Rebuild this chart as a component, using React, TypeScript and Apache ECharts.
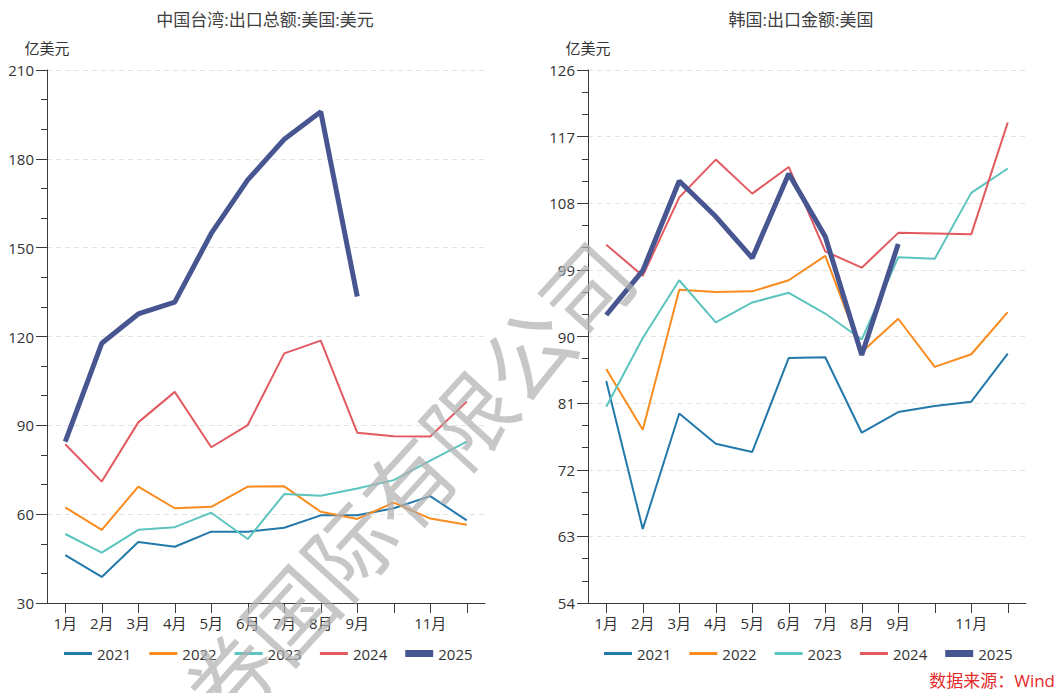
import React, { useEffect, useRef } from "react";
import * as echarts from "echarts";

const months = ["1月", "2月", "3月", "4月", "5月", "6月", "7月", "8月", "9月", "10月", "11月", "12月"];
const years = ["2021", "2022", "2023", "2024", "2025"];
const colors = ["#2379AA", "#FA8B1E", "#5CC4BE", "#E25A60", "#475691"];

const twTitle = "中国台湾:出口总额:美国:美元";
const krTitle = "韩国:出口金额:美国";
const unitName = "亿美元";
const sourceText = "数据来源：Wind";
const watermarkText = "证券国际有限公司";

const tw2021 = [46.2, 38.8, 50.6, 49.0, 54.1, 54.1, 55.4, 59.6, 59.6, 62.0, 66.1, 57.9];
const tw2022 = [62.3, 54.7, 69.3, 62.0, 62.5, 69.3, 69.4, 60.8, 58.4, 63.9, 58.5, 56.4];
const tw2023 = [53.3, 47.0, 54.7, 55.6, 60.5, 51.6, 66.8, 66.2, 68.7, 71.5, 78.1, 84.5];
const tw2024 = [83.6, 71.0, 91.0, 101.3, 82.6, 90.1, 114.3, 118.6, 87.5, 86.3, 86.2, 98.0];
const tw2025 = [84.5, 117.7, 127.6, 131.6, 154.8, 172.9, 186.6, 195.9, 133.5];

const kr2021 = [84.0, 64.0, 79.6, 75.5, 74.4, 87.1, 87.2, 77.0, 79.8, 80.6, 81.2, 87.7];
const kr2022 = [85.6, 77.4, 96.3, 96.0, 96.1, 97.6, 100.9, 87.9, 92.4, 85.9, 87.6, 93.3];
const kr2023 = [80.5, 89.8, 97.6, 91.9, 94.6, 95.9, 93.1, 89.6, 100.7, 100.5, 109.4, 112.7];
const kr2024 = [102.4, 98.2, 108.8, 113.9, 109.3, 112.9, 101.5, 99.3, 104.0, 103.9, 103.8, 118.9];
const kr2025 = [92.9, 98.9, 111.0, 106.2, 100.6, 112.0, 103.5, 87.5, 102.5];

const twY = { min: 30, max: 210, interval: 30 };
const krY = { min: 54, max: 126, interval: 9 };

const twSeries = [tw2021, tw2022, tw2023, tw2024, tw2025];
const krSeries = [kr2021, kr2022, kr2023, kr2024, kr2025];

const FONT = "'Open Sans', 'Noto Sans CJK SC', sans-serif";
const AXIS_COLOR = "#3a3a3a";

function makeXAxis(gridIndex: number) {
  return {
    type: "category",
    gridIndex,
    data: months,
    boundaryGap: true,
    axisLine: { show: true, lineStyle: { color: AXIS_COLOR, width: 1 } },
    axisTick: { show: true, alignWithLabel: true, interval: 0, length: 10, lineStyle: { color: AXIS_COLOR } },
    axisLabel: {
      interval: (index: number) => index < 9 || index === 10,
      margin: 12,
      fontSize: 15,
      color: "#333",
      fontFamily: FONT,
    },
    splitLine: { show: false },
  };
}

function makeYAxis(gridIndex: number, cfg: { min: number; max: number; interval: number }) {
  return {
    type: "value",
    gridIndex,
    min: cfg.min,
    max: cfg.max,
    interval: cfg.interval,
    name: unitName,
    nameLocation: "end",
    nameGap: 15,
    nameTextStyle: { fontSize: 15, color: "#333", fontFamily: FONT, align: "center" },
    axisLine: { show: true, lineStyle: { color: AXIS_COLOR, width: 1 } },
    axisTick: { show: true, length: 11, lineStyle: { color: AXIS_COLOR } },
    minorTick: { show: true, splitNumber: 3, length: 6, lineStyle: { color: AXIS_COLOR } },
    axisLabel: { margin: 13, fontSize: 15, color: "#333", fontFamily: FONT },
    splitLine: { show: true, lineStyle: { color: "#e2e2e2", type: [5, 4], width: 1 } },
    minorSplitLine: { show: false },
  };
}

function legendData() {
  return years.map((y, i) =>
    i === 4 ? { name: y, icon: "rect" } : { name: y, icon: "path://M0,0H28V3H0Z" }
  );
}

function makeLegend(left: number) {
  return {
    left,
    top: 646,
    orient: "horizontal",
    data: legendData(),
    itemWidth: 28,
    itemHeight: 7,
    itemGap: 18,
    padding: 0,
    symbolKeepAspect: true,
    itemStyle: { borderWidth: 0 },
    textStyle: { fontSize: 15, color: "#333", fontFamily: FONT },
    selectedMode: false,
  };
}

export default function App() {
  const ref = useRef<HTMLDivElement>(null);

  useEffect(() => {
    if (!ref.current) return;
    const chart = echarts.init(ref.current, undefined, { renderer: "svg" });

    const series: any[] = [];
    [twSeries, krSeries].forEach((group, gi) => {
      group.forEach((data, i) => {
        series.push({
          type: "line",
          name: years[i],
          xAxisIndex: gi,
          yAxisIndex: gi,
          data,
          symbol: "none",
          showSymbol: false,
          z: 2 + i,
          lineStyle: { color: colors[i], width: i === 4 ? 5 : 2 },
          itemStyle: { color: colors[i] },
          color: colors[i],
        });
      });
    });

    chart.setOption({
      animation: false,
      textStyle: { fontFamily: FONT },
      grid: [
        { left: 47, top: 70, width: 438, height: 533, containLabel: false },
        { left: 588, top: 70, width: 438, height: 533, containLabel: false },
      ],
      xAxis: [makeXAxis(0), makeXAxis(1)],
      yAxis: [makeYAxis(0, twY), makeYAxis(1, krY)],
      legend: [makeLegend(64), makeLegend(604)],
      series,
      graphic: [
        {
          type: "text",
          x: 265,
          y: 19,
          style: { text: twTitle, fontSize: 17, fill: "#404040", align: "center", verticalAlign: "middle", fontFamily: FONT },
        },
        {
          type: "text",
          x: 801,
          y: 19,
          style: { text: krTitle, fontSize: 17, fill: "#404040", align: "center", verticalAlign: "middle", fontFamily: FONT },
        },
        {
          type: "text",
          right: 5,
          top: 672,
          style: { text: sourceText, fontSize: 17, fill: "#E42A2A", fontFamily: FONT },
        },
        {
          type: "text",
          x: 376,
          y: 514,
          rotation: 0.83,
          z: 100,
          silent: true,
          style: {
            text: watermarkText,
            fontSize: 88,
            fill: "rgba(175,175,175,0.7)",
            align: "center",
            verticalAlign: "middle",
            fontFamily: "'Noto Sans CJK SC', sans-serif",
          },
        },
      ],
    });

    return () => chart.dispose();
  }, []);

  return (
    <div
      ref={ref}
      style={{ position: "fixed", left: 0, top: 0, width: 1060, height: 693, background: "#fff" }}
    />
  );
}
